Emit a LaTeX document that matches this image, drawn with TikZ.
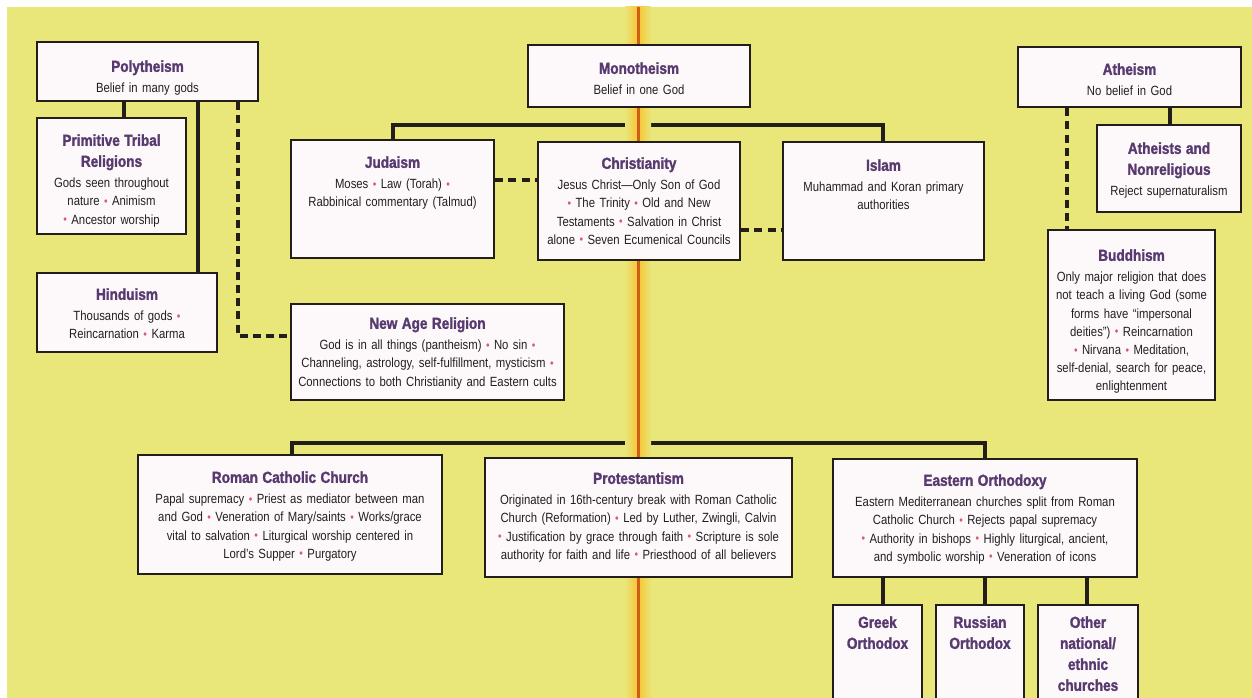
\documentclass[tikz,border=0pt]{standalone}
\usepackage{fontspec}
\setmainfont{Liberation Sans}[FakeStretch=0.85, BoldFeatures={FakeBold=1.6}]
\usetikzlibrary{fit,calc}
\pgfdeclarelayer{bgl}
\pgfdeclarelayer{midl}
\pgfsetlayers{bgl,midl,main}
\definecolor{bgy}{RGB}{233,230,122}
\definecolor{glow}{RGB}{248,196,50}
\definecolor{orl}{RGB}{205,95,25}
\definecolor{boxf}{RGB}{253,248,250}
\definecolor{boxl}{RGB}{35,30,25}
\definecolor{ttl}{RGB}{88,58,112}
\definecolor{txt}{RGB}{35,30,35}
\definecolor{bul}{RGB}{215,90,110}
\newcommand{\hd}[1]{{\fontsize{12}{15.75}\selectfont\bfseries\leavevmode\color{ttl}#1\par}\vspace{2pt}}
\newcommand{\bd}[1]{{\fontsize{10}{13.65}\selectfont\leavevmode\color{txt}#1\par}}
\newcommand{\bu}{{\color{bul}\fontsize{9}{9}\selectfont\raisebox{0.08ex}{•}}}
\tikzset{
  box/.style={draw=boxl, fill=boxf, line width=2.1pt, inner sep=0pt, rectangle},
  txt/.style={anchor=north, align=center, inner sep=0pt, text width=#1},
  cl/.style={draw=boxl, line width=2.3pt},
  dl/.style={cl, dash pattern=on 6pt off 3.8pt}
}
\begin{document}
\begin{tikzpicture}[x=0.75pt,y=-0.75pt]
\useasboundingbox (0,0) rectangle (1252,698);
\clip (0,0) rectangle (1252,698);
\begin{pgfonlayer}{bgl}
\fill[white] (0,0) rectangle (1252,698);
\fill[bgy] (7,7) rectangle (1252,698);
\end{pgfonlayer}
\begin{pgfonlayer}{midl}
\shade[left color=bgy, right color=bgy, middle color=glow] (625,7) rectangle (651,698);
\fill[orl] (636.8,7) rectangle (639.6,698);
\end{pgfonlayer}

% boxes
\node[box, fit={(37,42)(258,101)}] (poly) {};
\node[box, fit={(37,118)(186,234)}] (prim) {};
\node[box, fit={(37,273)(217,352)}] (hind) {};
\node[box, fit={(528,45)(750,107)}] (mono) {};
\node[box, fit={(291,140)(494,258)}] (jud) {};
\node[box, fit={(538,142)(740,260)}] (chr) {};
\node[box, fit={(783,142)(984,260)}] (isl) {};
\node[box, fit={(1018,47)(1241,107)}] (ath) {};
\node[box, fit={(1097,125)(1241,212)}] (athn) {};
\node[box, fit={(1048,230)(1215,400)}] (bud) {};
\node[box, fit={(291,304)(564,400)}] (newage) {};
\node[box, fit={(138,455)(442,574)}] (rc) {};
\node[box, fit={(485,458)(792,577)}] (prot) {};
\node[box, fit={(833,459)(1137,577)}] (eo) {};
\node[box, fit={(833,605)(922,720)}] (greek) {};
\node[box, fit={(936,605)(1024,720)}] (rus) {};
\node[box, fit={(1038,605)(1138,720)}] (oth) {};

% texts
\node[txt=180pt] (poly-t) at (poly.north |- 0,60) {\hd{Polytheism}\bd{Belief in many gods}};
\node[txt=130pt] (prim-t) at (prim.north |- 0,134) {\hd{Primitive Tribal\\Religions}\bd{Gods seen throughout\\nature \bu{} Animism\\\bu{} Ancestor worship}};
\node[txt=150pt] (hind-t) at (hind.north |- 0,288) {\hd{Hinduism}\bd{Thousands of gods \bu\\Reincarnation \bu{} Karma}};
\node[txt=180pt] (mono-t) at (mono.north |- 0,62) {\hd{Monotheism}\bd{Belief in one God}};
\node[txt=170pt] (jud-t) at (jud.north |- 0,156) {\hd{Judaism}\bd{Moses \bu{} Law (Torah) \bu\\Rabbinical commentary (Talmud)}};
\node[txt=170pt] (chr-t) at (chr.north |- 0,157) {\hd{Christianity}\bd{Jesus Christ—Only Son of God\\\bu{} The Trinity \bu{} Old and New\\Testaments \bu{} Salvation in Christ\\alone \bu{} Seven Ecumenical Councils}};
\node[txt=170pt] (isl-t) at (isl.north |- 0,159) {\hd{Islam}\bd{Muhammad and Koran primary\\authorities}};
\node[txt=180pt] (ath-t) at (ath.north |- 0,63) {\hd{Atheism}\bd{No belief in God}};
\node[txt=130pt] (athn-t) at (athn.north |- 0,142) {\hd{Atheists and\\Nonreligious}\bd{Reject supernaturalism}};
\node[txt=145pt] (bud-t) at (bud.north |- 0,249) {\hd{Buddhism}\bd{Only major religion that does\\not teach a living God (some\\forms have ``impersonal\\deities'') \bu{} Reincarnation\\\bu{} Nirvana \bu{} Meditation,\\self-denial, search for peace,\\enlightenment}};
\node[txt=225pt] (newage-t) at (newage.north |- 0,317) {\hd{New Age Religion}\bd{God is in all things (pantheism) \bu{} No sin \bu\\Channeling, astrology, self-fulfillment, mysticism \bu\\Connections to both Christianity and Eastern cults}};
\node[txt=250pt] (rc-t) at (rc.north |- 0,471) {\hd{Roman Catholic Church}\bd{Papal supremacy \bu{} Priest as mediator between man\\and God \bu{} Veneration of Mary/saints \bu{} Works/grace\\vital to salvation \bu{} Liturgical worship centered in\\Lord's Supper \bu{} Purgatory}};
\node[txt=250pt] (prot-t) at (prot.north |- 0,472) {\hd{Protestantism}\bd{Originated in 16th-century break with Roman Catholic\\Church (Reformation) \bu{} Led by Luther, Zwingli, Calvin\\\bu{} Justification by grace through faith \bu{} Scripture is sole\\authority for faith and life \bu{} Priesthood of all believers}};
\node[txt=250pt] (eo-t) at (eo.north |- 0,474) {\hd{Eastern Orthodoxy}\bd{Eastern Mediterranean churches split from Roman\\Catholic Church \bu{} Rejects papal supremacy\\\bu{} Authority in bishops \bu{} Highly liturgical, ancient,\\and symbolic worship \bu{} Veneration of icons}};
\node[txt=80pt] (greek-t) at (greek.north |- 0,616) {\hd{Greek\\Orthodox}};
\node[txt=80pt] (rus-t) at (rus.north |- 0,616) {\hd{Russian\\Orthodox}};
\node[txt=90pt] (oth-t) at (oth.north |- 0,616) {\hd{Other\\national/\\ethnic\\churches}};

% connector coordinates
\coordinate (cPrim) at (124,0);
\coordinate (cHind) at (198,0);
\coordinate (cPD) at (238,336);
\coordinate (cJC) at (0,180);
\coordinate (cCI) at (0,230);
\coordinate (cJud) at (393,125);
\coordinate (cIsl) at (883,125);
\coordinate (cAth) at (1170,0);
\coordinate (cBud) at (1067,0);
\coordinate (cRC) at (292,443);
\coordinate (cEO) at (985,443);
\coordinate (cGr) at (883,0);
\coordinate (cRu) at (985,0);
\coordinate (cOt) at (1087,0);

\begin{pgfonlayer}{bgl}
\draw[cl] (poly.south -| cPrim) -- (prim.north -| cPrim);
\draw[cl] (poly.south -| cHind) -- (hind.north -| cHind);
\draw[dl] (poly.south -| cPD) -- (cPD) -- (newage.west |- cPD);
\draw[cl] (mono.south) -- (mono.south |- cJud);
\draw[cl] (jud.north -| cJud) -- (cJud) -- (cIsl) -- (isl.north -| cIsl);
\draw[cl] (mono.south |- cJud) -- (chr.north);
\draw[dl] (jud.east |- cJC) -- (chr.west |- cJC);
\draw[dl] (chr.east |- cCI) -- (isl.west |- cCI);
\draw[cl] (ath.south -| cAth) -- (athn.north -| cAth);
\draw[dl] (ath.south -| cBud) -- (bud.north -| cBud);
\draw[cl] (chr.south) -- (chr.south |- cRC);
\draw[cl] (rc.north -| cRC) -- (cRC) -- (cEO) -- (eo.north -| cEO);
\draw[cl] (chr.south |- cRC) -- (prot.north);
\draw[cl] (eo.south -| cGr) -- (greek.north -| cGr);
\draw[cl] (eo.south -| cRu) -- (rus.north -| cRu);
\draw[cl] (eo.south -| cOt) -- (oth.north -| cOt);
\end{pgfonlayer}
\end{tikzpicture}
\end{document}
